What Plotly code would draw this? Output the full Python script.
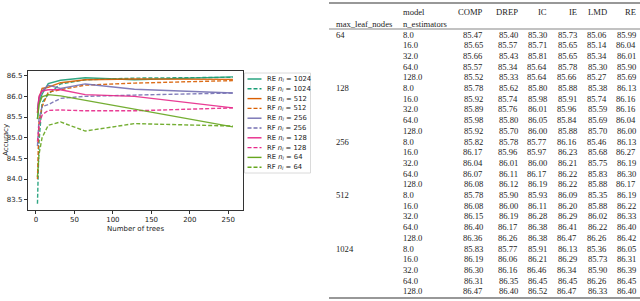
import plotly.graph_objects as go

W, H = 640, 301

# ---------------- chart data ----------------
n_trees = [2, 4, 8, 16, 32, 64, 128, 256]
series_names = ["RE 1024", "RF 1024", "RE 512", "RF 512", "RE 256", "RF 256",
                "RE 128", "RF 128", "RE 64", "RF 64"]
re_1024 = [85.45, 85.85, 86.05, 86.31, 86.39, 86.45, 86.40, 86.47]
rf_1024 = [83.40, 84.90, 85.85, 86.05, 86.30, 86.40, 86.44, 86.46]
re_512 = [85.60, 85.95, 86.19, 86.22, 86.33, 86.40, 86.42, 86.41]
rf_512 = [84.00, 85.40, 85.75, 86.10, 86.16, 86.27, 86.32, 86.38]
re_256 = [85.70, 85.95, 86.13, 86.27, 86.19, 86.30, 86.17, 86.08]
rf_256 = [84.80, 85.45, 85.75, 85.80, 85.95, 86.00, 86.03, 86.08]
re_128 = [85.60, 86.00, 86.13, 86.16, 86.16, 86.04, 86.00, 85.72]
rf_128 = [84.90, 85.30, 85.55, 85.66, 85.67, 85.65, 85.65, 85.72]
re_64 = [85.45, 85.80, 85.99, 86.04, 86.01, 85.90, 85.69, 85.26]
rf_64 = [84.05, 84.60, 85.00, 85.30, 85.38, 85.16, 85.34, 85.28]
series_values = [re_1024, rf_1024, re_512, rf_512, re_256, rf_256,
                 re_128, rf_128, re_64, rf_64]
y_ticks = [83.5, 84.0, 84.5, 85.0, 85.5, 86.0, 86.5]
x_ticks = [0, 50, 100, 150, 200, 250]
x_title = "Number of trees"
y_title = "Accuracy"

# ---------------- table data ----------------
max_leaf_nodes = [64, 128, 256, 512, 1024]
n_estimators = [8.0, 16.0, 32.0, 64.0, 128.0]
methods = ["COMP", "DREP", "IC", "IE", "LMD", "RE"]
COMP = [85.47, 85.65, 85.66, 85.57, 85.52, 85.78, 85.92, 85.89, 85.98, 85.92,
        85.82, 86.17, 86.04, 86.07, 86.08, 85.78, 86.08, 86.15, 86.40, 86.36,
        85.83, 86.19, 86.30, 86.31, 86.47]
DREP = [85.40, 85.57, 85.43, 85.34, 85.33, 85.62, 85.74, 85.76, 85.80, 85.70,
        85.78, 85.96, 86.01, 86.11, 86.12, 85.90, 86.00, 86.19, 86.17, 86.26,
        85.77, 86.06, 86.16, 86.35, 86.40]
IC = [85.30, 85.71, 85.81, 85.64, 85.64, 85.80, 85.98, 86.01, 86.05, 86.00,
      85.77, 85.97, 86.00, 86.17, 86.19, 85.93, 86.11, 86.28, 86.38, 86.38,
      85.91, 86.21, 86.46, 86.45, 86.52]
IE = [85.73, 85.65, 85.65, 85.78, 85.66, 85.88, 85.91, 85.96, 85.84, 85.88,
      86.16, 86.23, 86.21, 86.22, 86.22, 86.09, 86.20, 86.29, 86.41, 86.47,
      86.13, 86.29, 86.34, 86.45, 86.47]
LMD = [85.06, 85.14, 85.34, 85.30, 85.27, 85.38, 85.74, 85.59, 85.69, 85.70,
       85.46, 85.68, 85.75, 85.83, 85.88, 85.35, 85.88, 86.02, 86.22, 86.26,
       85.36, 85.73, 85.90, 86.26, 86.33]
RE = [85.99, 86.04, 86.01, 85.90, 85.69, 86.13, 86.16, 86.16, 86.04, 86.00,
      86.13, 86.27, 86.19, 86.30, 86.17, 86.19, 86.22, 86.33, 86.40, 86.42,
      86.05, 86.31, 86.39, 86.45, 86.40]
table_cols = [COMP, DREP, IC, IE, LMD, RE]

# ---------------- styling ----------------
palette = {"1024": "#1b9e77", "512": "#d95f02", "256": "#7570b3",
           "128": "#e7298a", "64": "#66a61e"}


def px(x):
    return x / W


def py(y):
    return 1 - y / H


fig = go.Figure()
for name, vals in zip(series_names, series_values):
    kind, nl = name.split()
    fig.add_trace(go.Scatter(
        x=n_trees, y=vals, mode="lines", name=name, showlegend=False,
        opacity=0.9,
        line=dict(color=palette[nl], width=1.4,
                  dash="solid" if kind == "RE" else "4px,2px")))

# plot area (pixels)
L, R, T, B = 27.7, 242.7, 70.7, 210.0

axis_font = dict(family="DejaVu Sans", size=7, color="#222")
fig.update_layout(
    width=W, height=H, margin=dict(l=0, r=0, t=0, b=0),
    paper_bgcolor="white", plot_bgcolor="white",
    xaxis=dict(domain=[px(L), px(R)], range=[-10.7, 268.7], tickvals=x_ticks,
               showgrid=False, zeroline=False, showline=True, mirror=True,
               linecolor="#333", linewidth=0.8, ticks="outside", ticklen=3,
               tickwidth=0.8, tickcolor="#333", tickfont=axis_font,
               automargin=False),
    yaxis=dict(domain=[py(B), py(T)], range=[83.25, 86.62], tickvals=y_ticks,
               tickformat=".1f",
               showgrid=False, zeroline=False, showline=True, mirror=True,
               linecolor="#333", linewidth=0.8, ticks="outside", ticklen=3,
               tickwidth=0.8, tickcolor="#333", tickfont=axis_font,
               automargin=False),
)

shapes = []
annotations = []

# axis titles
annotations.append(dict(xref="paper", yref="paper", x=px((L + R) / 2),
                        y=py(229), xanchor="center", yanchor="middle",
                        showarrow=False, text=x_title, font=axis_font))
annotations.append(dict(xref="paper", yref="paper", x=px(0.5),
                        y=py((T + B) / 2), xanchor="left", yanchor="middle",
                        showarrow=False, text=y_title, textangle=-90,
                        font=axis_font))

# ---------------- manual legend ----------------
leg_l, leg_r, leg_t, leg_b = 244.5, 310.5, 73.0, 173.0
shapes.append(dict(type="rect", xref="paper", yref="paper",
                   x0=px(leg_l), x1=px(leg_r), y0=py(leg_b), y1=py(leg_t),
                   line=dict(color="#d0d0d0", width=0.8), fillcolor="white",
                   layer="above"))
for i, name in enumerate(series_names):
    kind, nl = name.split()
    yy = 79.0 + i * 9.8
    shapes.append(dict(type="line", xref="paper", yref="paper",
                       x0=px(247.5), x1=px(261.5), y0=py(yy), y1=py(yy),
                       line=dict(color=palette[nl], width=1.4,
                                 dash="solid" if kind == "RE" else "4px,2px"),
                       layer="above"))
    annotations.append(dict(
        xref="paper", yref="paper", x=px(265), y=py(yy), xanchor="left",
        yanchor="middle", showarrow=False,
        text=f"{kind} <i>n</i><sub><i>l</i></sub> = {nl}",
        font=dict(family="DejaVu Sans", size=6.8, color="#222")))

# ---------------- table ----------------
tfont = dict(family="Liberation Serif", size=8.6, color="#222")
tab_l, tab_r = 329, 640
shapes.append(dict(type="line", xref="paper", yref="paper", x0=px(tab_l),
                   x1=px(tab_r), y0=py(3), y1=py(3),
                   line=dict(color="#333", width=1.2)))
shapes.append(dict(type="line", xref="paper", yref="paper", x0=px(tab_l),
                   x1=px(tab_r), y0=py(29), y1=py(29),
                   line=dict(color="#333", width=0.6)))
shapes.append(dict(type="line", xref="paper", yref="paper", x0=px(tab_l),
                   x1=px(tab_r), y0=py(298), y1=py(298),
                   line=dict(color="#333", width=1.2)))

col1_x, col2_x = 334, 401
num_right = [485, 519.5, 549, 579, 608.5, 638]


def text_at(x, y, s, anchor):
    annotations.append(dict(xref="paper", yref="paper", x=px(x), y=py(y),
                            xanchor=anchor, yanchor="middle", showarrow=False,
                            text=s, font=tfont))


text_at(col2_x, 12, "model", "left")
text_at(col1_x, 23.5, "max_leaf_nodes", "left")
text_at(col2_x, 23.5, "n_estimators", "left")
for m, xr in zip(methods, num_right):
    text_at(xr, 12, m, "right")

row0, dy = 34.5, 10.7
r = 0
for mln in max_leaf_nodes:
    for k, ne in enumerate(n_estimators):
        y = row0 + r * dy
        if k == 0:
            text_at(col1_x, y, str(mln), "left")
        text_at(col2_x, y, f"{ne:.1f}", "left")
        for col, xr in zip(table_cols, num_right):
            text_at(xr, y, f"{col[r]:.2f}", "right")
        r += 1

fig.update_layout(shapes=shapes, annotations=annotations)
fig.write_html(
    "out.html",
    config={"displayModeBar": False},
    post_script="document.body.style.margin='0px';"
                "document.body.style.padding='0px';"
                "document.body.style.overflow='hidden';")
